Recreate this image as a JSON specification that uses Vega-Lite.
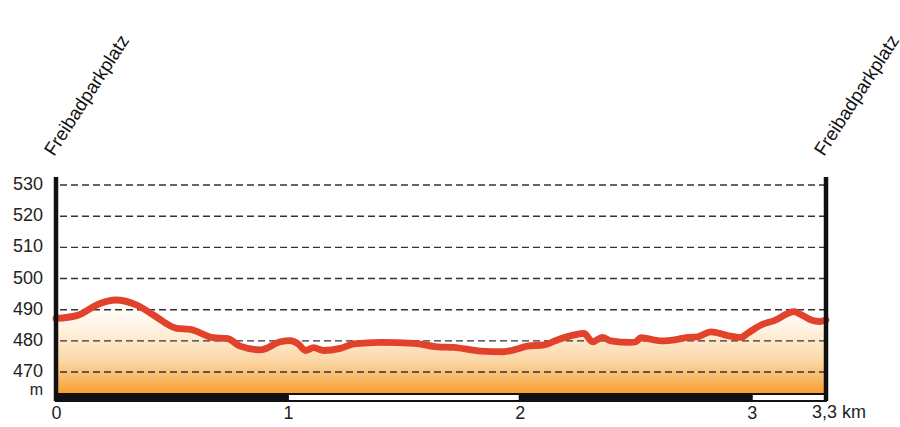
{
  "$schema": "https://vega.github.io/schema/vega-lite/v6.json",
  "width": 770,
  "height": 224,
  "autosize": {"type": "none"},
  "padding": {"left": 56, "top": 177, "right": 74, "bottom": 26},
  "background": "white",
  "config": {"view": {"stroke": null}, "font": "Liberation Sans", "axis": {"labelOverlap": false, "labelFlush": false}},
  "datasets": {
    "profile": [
      {"km": 0.0, "elev": 487.2},
      {"km": 0.089, "elev": 488.1},
      {"km": 0.19, "elev": 492.0},
      {"km": 0.255, "elev": 493.1},
      {"km": 0.348, "elev": 491.5},
      {"km": 0.42, "elev": 488.3},
      {"km": 0.521, "elev": 484.0},
      {"km": 0.579, "elev": 483.7},
      {"km": 0.679, "elev": 481.0},
      {"km": 0.737, "elev": 480.8},
      {"km": 0.794, "elev": 478.3},
      {"km": 0.881, "elev": 477.1},
      {"km": 0.967, "elev": 479.7},
      {"km": 1.01, "elev": 480.1},
      {"km": 1.045, "elev": 479.0},
      {"km": 1.075, "elev": 476.9},
      {"km": 1.111, "elev": 477.8},
      {"km": 1.154, "elev": 476.9},
      {"km": 1.226, "elev": 477.6},
      {"km": 1.284, "elev": 479.0},
      {"km": 1.399, "elev": 479.5},
      {"km": 1.543, "elev": 479.2},
      {"km": 1.644, "elev": 478.1},
      {"km": 1.715, "elev": 477.9},
      {"km": 1.831, "elev": 476.7},
      {"km": 1.931, "elev": 476.5},
      {"km": 1.975, "elev": 477.1},
      {"km": 2.032, "elev": 478.3},
      {"km": 2.104, "elev": 478.7},
      {"km": 2.162, "elev": 480.3},
      {"km": 2.234, "elev": 481.9},
      {"km": 2.277, "elev": 482.4},
      {"km": 2.313, "elev": 479.7},
      {"km": 2.356, "elev": 481.1},
      {"km": 2.392, "elev": 480.0},
      {"km": 2.478, "elev": 479.5},
      {"km": 2.5, "elev": 479.7},
      {"km": 2.522, "elev": 481.0},
      {"km": 2.608, "elev": 480.0},
      {"km": 2.68, "elev": 480.5},
      {"km": 2.723, "elev": 481.1},
      {"km": 2.766, "elev": 481.3},
      {"km": 2.824, "elev": 482.9},
      {"km": 2.896, "elev": 481.7},
      {"km": 2.953, "elev": 481.1},
      {"km": 2.982, "elev": 482.4},
      {"km": 3.04, "elev": 485.1},
      {"km": 3.097, "elev": 486.5},
      {"km": 3.183, "elev": 489.4},
      {"km": 3.198, "elev": 489.0},
      {"km": 3.256, "elev": 486.7},
      {"km": 3.291, "elev": 486.2},
      {"km": 3.32, "elev": 486.7}
    ],
    "grid": [
      {"km": 0, "elev": 470}, {"km": 0, "elev": 480}, {"km": 0, "elev": 490}, {"km": 0, "elev": 500},
      {"km": 0, "elev": 510}, {"km": 0, "elev": 520}, {"km": 0, "elev": 530}
    ],
    "segments": [
      {"start": 0, "end": 1, "shade": "dark"},
      {"start": 1, "end": 2, "shade": "light"},
      {"start": 2, "end": 3, "shade": "dark"},
      {"start": 3, "end": 3.32, "shade": "light"}
    ],
    "ends": [
      {"km": 0, "name": "Freibadparkplatz"},
      {"km": 3.32, "name": "Freibadparkplatz"}
    ]
  },
  "layer": [
    {
      "data": {"name": "profile"},
      "mark": {
        "type": "area",
        "interpolate": "monotone",
        "color": {
          "gradient": "linear",
          "x1": 0, "y1": 0, "x2": 0, "y2": 1,
          "stops": [
            {"offset": 0, "color": "#ffffff"},
            {"offset": 0.3, "color": "#fff3e2"},
            {"offset": 0.65, "color": "#fcd7a6"},
            {"offset": 1, "color": "#f79e2e"}
          ]
        }
      },
      "encoding": {
        "x": {
          "field": "km", "type": "quantitative",
          "scale": {"domain": [0, 3.32], "nice": false, "zero": false},
          "axis": {
            "values": [0, 1, 2, 3], "format": "d",
            "title": null, "domain": false, "ticks": false, "tickSize": 0,
            "grid": false, "labelFontSize": 18, "labelColor": "#222",
            "labelPadding": 3, "labelFlush": false, "labelOverlap": false, "labelFont": "Liberation Sans"
          }
        },
        "y": {
          "field": "elev", "type": "quantitative",
          "scale": {"domain": [460.7, 532.57], "nice": false, "zero": false},
          "axis": {
            "values": [470, 480, 490, 500, 510, 520, 530],
            "title": null, "domain": false, "ticks": false, "tickSize": 0,
            "grid": false, "labels": false
          }
        },
        "y2": {"datum": 462.94}
      }
    },
    {
      "data": {"name": "grid"},
      "mark": {"type": "rule", "color": "#333333", "strokeWidth": 1.4, "strokeDash": [7, 4]},
      "encoding": {
        "y": {"field": "elev", "type": "quantitative", "scale": {"domain": [460.7, 532.57], "nice": false, "zero": false}}
      }
    },
    {
      "data": {"name": "grid"},
      "mark": {"type": "text", "align": "right", "baseline": "middle", "fontSize": 18, "font": "Liberation Sans", "color": "#222", "dx": -13},
      "encoding": {
        "x": {"field": "km", "type": "quantitative", "scale": {"domain": [0, 3.32], "nice": false, "zero": false}},
        "y": {"field": "elev", "type": "quantitative", "scale": {"domain": [460.7, 532.57], "nice": false, "zero": false}},
        "text": {"field": "elev", "type": "quantitative", "format": "d"}
      }
    },
    {
      "data": {"name": "profile"},
      "mark": {"type": "line", "interpolate": "monotone", "color": "#e2412c", "strokeWidth": 6.8, "strokeCap": "round", "strokeJoin": "round"},
      "encoding": {
        "x": {"field": "km", "type": "quantitative", "scale": {"domain": [0, 3.32], "nice": false, "zero": false}},
        "y": {"field": "elev", "type": "quantitative", "scale": {"domain": [460.7, 532.57], "nice": false, "zero": false}}
      }
    },
    {
      "data": {"name": "segments"},
      "mark": {"type": "rect", "stroke": "#111111", "strokeWidth": 2},
      "encoding": {
        "x": {"field": "start", "type": "quantitative", "scale": {"domain": [0, 3.32], "nice": false, "zero": false}},
        "x2": {"field": "end"},
        "y": {"datum": 460.7, "scale": {"domain": [460.7, 532.57], "nice": false, "zero": false}},
        "y2": {"datum": 462.94},
        "fill": {"field": "shade", "type": "nominal", "scale": {"domain": ["dark", "light"], "range": ["#111111", "#ffffff"]}, "legend": null}
      }
    },
    {
      "data": {"name": "ends"},
      "mark": {"type": "rule", "color": "#111111", "strokeWidth": 4.5},
      "encoding": {
        "x": {"field": "km", "type": "quantitative", "scale": {"domain": [0, 3.32], "nice": false, "zero": false}},
        "y": {"datum": 460.7, "scale": {"domain": [460.7, 532.57], "nice": false, "zero": false}},
        "y2": {"datum": 532.57}
      }
    },
    {
      "data": {"name": "ends"},
      "mark": {"type": "text", "angle": 303, "align": "left", "baseline": "alphabetic", "fontSize": 18.7, "font": "Liberation Sans", "color": "#111", "dx": 15.7, "dy": -12.6},
      "encoding": {
        "x": {"field": "km", "type": "quantitative", "scale": {"domain": [0, 3.32], "nice": false, "zero": false}},
        "y": {"datum": 532.57, "scale": {"domain": [460.7, 532.57], "nice": false, "zero": false}},
        "text": {"field": "name"}
      }
    },
    {
      "data": {"values": [{"km": 0, "unit": "m"}]},
      "mark": {"type": "text", "align": "right", "baseline": "alphabetic", "fontSize": 16, "font": "Liberation Sans", "color": "#222", "dx": -13, "dy": 1},
      "encoding": {
        "x": {"field": "km", "type": "quantitative", "scale": {"domain": [0, 3.32], "nice": false, "zero": false}},
        "y": {"datum": 462.94, "scale": {"domain": [460.7, 532.57], "nice": false, "zero": false}},
        "text": {"field": "unit"}
      }
    },
    {
      "data": {"values": [{"km": 3.32, "label": "3,3 km"}]},
      "mark": {"type": "text", "align": "left", "baseline": "top", "fontSize": 18, "font": "Liberation Sans", "color": "#222", "dx": -14, "dy": 3},
      "encoding": {
        "x": {"field": "km", "type": "quantitative", "scale": {"domain": [0, 3.32], "nice": false, "zero": false}},
        "y": {"datum": 460.7, "scale": {"domain": [460.7, 532.57], "nice": false, "zero": false}},
        "text": {"field": "label"}
      }
    }
  ]
}
